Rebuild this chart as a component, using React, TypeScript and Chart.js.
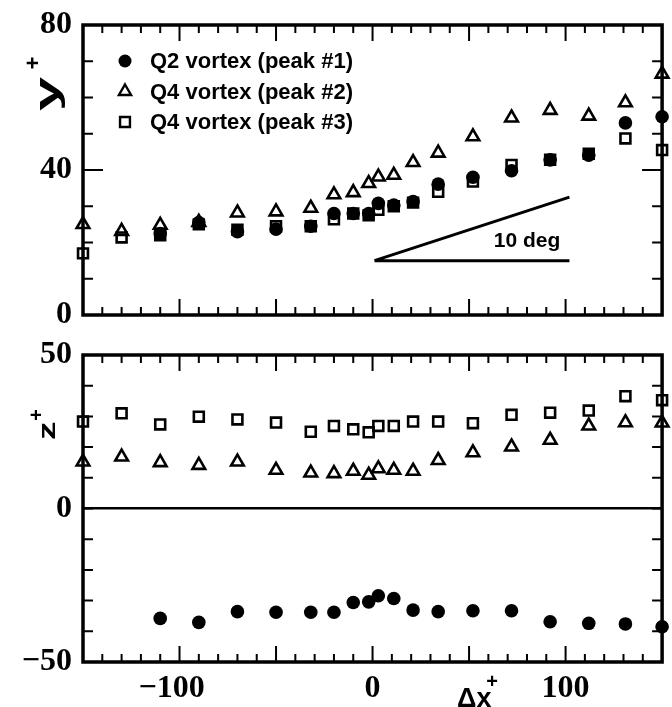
import React, { useEffect, useRef } from 'react';
import { Chart, registerables } from 'chart.js';

Chart.register(...registerables);

// ---------------- data ----------------
const xValues = [-150, -130, -110, -90, -70, -50, -32, -20, -10, -2, 3, 11, 21, 34, 52, 72, 92, 112, 131, 150];

// top panel: y+
const yPeak1 = [null, null, 22.5, 25.5, 23, 23.7, 24.5, 28, 28, 28, 30.8, 30.3, 31.3, 36.1, 38, 39.8, 42.8, 44.1, 53, 54.7];
const yPeak2 = [25, 23.1, 24.8, 25.6, 28.2, 28.5, 29.5, 33.2, 33.8, 36.3, 38.1, 38.6, 42.1, 44.7, 49.2, 54.4, 56.5, 54.9, 58.6, 66.5];
const yPeak3 = [17, 21.4, 22, 25, 23.5, 24.5, 24.5, 26.4, 28, 27.5, 29, 30, 31, 34, 36.8, 41.4, 42.8, 44.5, 48.7, 45.5];

// bottom panel: z+
const zPeak1 = [null, null, -35.8, -37.1, -33.6, -33.8, -33.8, -33.8, -30.6, -30.4, -28.4, -29.3, -33.1, -33.6, -33.3, -33.3, -36.9, -37.4, -37.6, -38.5];
const zPeak2 = [15.2, 16.8, 15, 14.1, 15.2, 12.5, 11.6, 11.4, 12.2, 10.9, 13, 12.5, 12.2, 15.7, 18.2, 20.1, 22.3, 26.9, 28, 27.9];
const zPeak3 = [28.3, 31, 27.4, 29.9, 29, 28, 25, 26.9, 25.8, 24.8, 26.9, 26.9, 28.3, 28.3, 27.8, 30.5, 31.2, 31.9, 36.6, 35.3];

const seriesNames = ['Q2 vortex (peak #1)', 'Q4 vortex (peak #2)', 'Q4 vortex (peak #3)'];

const xRange = [-150, 150];
const yRange = [0, 80];
const zRange = [-50, 50];
const xLabelValues = [-100, 0, 100];
const yLabelValues = [0, 40, 80];
const zLabelValues = [-50, 0, 50];

// "10 deg" annotation (data coords of the top panel)
const angleBase = [1, 15, 102, 15];
const angleSlope = [1, 15, 102, 32.5];
const angleLabel = { text: '10 deg', x: 80, y: 20.3 };

// ---------------- styles ----------------
const SERIF = "'Liberation Serif', 'DejaVu Serif', serif";
const SANS = "'Liberation Sans', Arial, sans-serif";

const seriesStyle: any[] = [
  { pointStyle: 'circle', pointRadius: 6.8, pointBackgroundColor: '#000', pointBorderColor: '#000', pointBorderWidth: 0 },
  { pointStyle: 'triangle', pointRadius: 7.3, pointBackgroundColor: 'rgba(0,0,0,0)', pointBorderColor: '#000', pointBorderWidth: 2.6 },
  { pointStyle: 'rect', pointRadius: 7, pointBackgroundColor: 'rgba(0,0,0,0)', pointBorderColor: '#000', pointBorderWidth: 2.6 },
];

const fmt = (v: number) => (v < 0 ? '\u2212' + Math.abs(v) : String(v));

function points(vals: (number | null)[]) {
  return xValues
    .map((x, i) => ({ x, y: vals[i] }))
    .filter((p) => p.y !== null) as { x: number; y: number }[];
}

function datasets(series: (number | null)[][]) {
  return series.map((s, i) => ({
    label: seriesNames[i],
    data: points(s),
    showLine: false,
    clip: false as any,
    ...seriesStyle[i],
  }));
}

function drawMarker(ctx: CanvasRenderingContext2D, style: string, x: number, y: number) {
  ctx.save();
  ctx.strokeStyle = '#000';
  ctx.fillStyle = '#000';
  ctx.lineWidth = 2.4;
  ctx.beginPath();
  if (style === 'circle') {
    ctx.arc(x, y, 6.5, 0, Math.PI * 2);
    ctx.fill();
  } else if (style === 'triangle') {
    const r = 7;
    let a = 0;
    ctx.moveTo(x + Math.sin(a) * r, y - Math.cos(a) * r);
    a += (2 * Math.PI) / 3;
    ctx.lineTo(x + Math.sin(a) * r, y - Math.cos(a) * r);
    a += (2 * Math.PI) / 3;
    ctx.lineTo(x + Math.sin(a) * r, y - Math.cos(a) * r);
    ctx.closePath();
    ctx.stroke();
  } else {
    const s = 7 * Math.SQRT1_2;
    ctx.rect(x - s, y - s, 2 * s, 2 * s);
    ctx.stroke();
  }
  ctx.restore();
}

function frameTicks(yMajor: (v: number) => boolean) {
  return {
    id: 'frameTicks',
    beforeDatasetsDraw(chart: any) {
      const { ctx, chartArea: a, scales } = chart;
      const xs = scales.x;
      const ys = scales.y;
      ctx.save();
      ctx.strokeStyle = '#000';
      ctx.lineWidth = 2;
      ctx.beginPath();
      for (let v = xs.min + 10; v < xs.max; v += 10) {
        const px = xs.getPixelForValue(v);
        const len = v % 50 === 0 ? 16 : 8;
        ctx.moveTo(px, a.top);
        ctx.lineTo(px, a.top + len);
        ctx.moveTo(px, a.bottom);
        ctx.lineTo(px, a.bottom - len);
      }
      for (let v = ys.min + 10; v < ys.max; v += 10) {
        const py = ys.getPixelForValue(v);
        const len = yMajor(v) ? 20 : 10;
        ctx.moveTo(a.left, py);
        ctx.lineTo(a.left + len, py);
        ctx.moveTo(a.right, py);
        ctx.lineTo(a.right - len, py);
      }
      ctx.stroke();
      ctx.lineWidth = 3.5;
      ctx.strokeRect(a.left, a.top, a.right - a.left, a.bottom - a.top);
      ctx.restore();
    },
  };
}

function rotatedTitle(
  ctx: CanvasRenderingContext2D,
  main: string,
  baseX: number,
  baseY: number,
  size: number,
  stretch: number,
  supX: number,
  supY: number,
  supSize: number
) {
  ctx.save();
  ctx.fillStyle = '#000';
  ctx.translate(baseX, baseY);
  ctx.rotate(-Math.PI / 2);
  ctx.scale(stretch, 1);
  ctx.font = `bold ${size}px ${SANS}`;
  ctx.textBaseline = 'alphabetic';
  ctx.textAlign = 'left';
  ctx.fillText(main, 0, 0);
  ctx.restore();
  ctx.save();
  ctx.fillStyle = '#000';
  ctx.translate(supX, supY);
  ctx.rotate(-Math.PI / 2);
  ctx.font = `bold ${supSize}px ${SANS}`;
  ctx.textBaseline = 'middle';
  ctx.textAlign = 'center';
  ctx.fillText('+', 0, 0);
  ctx.restore();
}

const topDecor = {
  id: 'topDecor',
  afterDraw(chart: any) {
    const { ctx, chartArea: a, scales } = chart;
    const xs = scales.x;
    const ys = scales.y;
    // legend
    const styles = ['circle', 'triangle', 'rect'];
    seriesNames.forEach((name, i) => {
      const y = a.top + 36 + i * 30.5;
      drawMarker(ctx, styles[i], a.left + 42, y);
      ctx.save();
      ctx.fillStyle = '#000';
      ctx.font = `bold 22px ${SANS}`;
      ctx.textBaseline = 'middle';
      ctx.textAlign = 'left';
      ctx.fillText(name, a.left + 67, y + 1);
      ctx.restore();
    });
    // 10 deg annotation
    ctx.save();
    ctx.strokeStyle = '#000';
    ctx.lineWidth = 3;
    ctx.beginPath();
    ctx.moveTo(xs.getPixelForValue(angleBase[0]), ys.getPixelForValue(angleBase[1]));
    ctx.lineTo(xs.getPixelForValue(angleBase[2]), ys.getPixelForValue(angleBase[3]));
    ctx.moveTo(xs.getPixelForValue(angleSlope[0]), ys.getPixelForValue(angleSlope[1]));
    ctx.lineTo(xs.getPixelForValue(angleSlope[2]), ys.getPixelForValue(angleSlope[3]));
    ctx.stroke();
    ctx.fillStyle = '#000';
    ctx.font = `bold 21px ${SANS}`;
    ctx.textAlign = 'center';
    ctx.textBaseline = 'middle';
    ctx.fillText(angleLabel.text, xs.getPixelForValue(angleLabel.x), ys.getPixelForValue(angleLabel.y));
    ctx.restore();
    // y+ title
    rotatedTitle(ctx, 'y', 58, 111, 34, 1.8, 34, 63, 22);
  },
};

const bottomDecor = {
  id: 'bottomDecor',
  afterDraw(chart: any) {
    const { ctx } = chart;
    rotatedTitle(ctx, 'z', 55, 110, 24, 1.55, 37, 85, 20);
    ctx.save();
    ctx.fillStyle = '#000';
    ctx.font = `bold 27px ${SANS}`;
    ctx.textAlign = 'left';
    ctx.textBaseline = 'alphabetic';
    ctx.fillText('\u0394x', 457, 377);
    ctx.font = `bold 20px ${SANS}`;
    ctx.textAlign = 'center';
    ctx.textBaseline = 'middle';
    ctx.fillText('+', 492, 352);
    ctx.restore();
  },
};

const tickFont = { family: SERIF, size: 32, weight: 'bold' as const };

function makeConfig(kind: 'top' | 'bottom'): any {
  const isTop = kind === 'top';
  const xScale: any = {
    type: 'linear',
    min: xRange[0],
    max: xRange[1],
    display: !isTop,
    border: { display: false },
    grid: { display: false, drawTicks: false },
    afterFit: (s: any) => {
      s.height = isTop ? 0 : 45;
      s.paddingLeft = 0;
      s.paddingRight = 0;
    },
    ticks: {
      stepSize: 10,
      autoSkip: false,
      maxRotation: 0,
      padding: 8,
      color: '#000',
      font: tickFont,
      callback: (v: number) => (xLabelValues.includes(v) ? fmt(v) + (v < 0 ? '  ' : '') : ''),
    },
  };
  return {
    type: 'scatter',
    data: {
      datasets: isTop ? datasets([yPeak1, yPeak2, yPeak3]) : datasets([zPeak1, zPeak2, zPeak3]),
    },
    options: {
      responsive: false,
      animation: false,
      devicePixelRatio: 1,
      events: [],
      layout: { padding: isTop ? { top: 25, right: 4, bottom: 15, left: 0 } : { top: 25, right: 4, bottom: 0, left: 0 } },
      plugins: { legend: { display: false }, tooltip: { enabled: false }, title: { display: false } },
      scales: {
        x: xScale,
        y: {
          type: 'linear',
          min: isTop ? yRange[0] : zRange[0],
          max: isTop ? yRange[1] : zRange[1],
          afterFit: (s: any) => {
            s.width = 83;
            s.paddingTop = 0;
            s.paddingBottom = 0;
          },
          border: { display: false },
          grid: isTop
            ? { display: false, drawTicks: false }
            : {
                display: true,
                drawTicks: false,
                color: (c: any) => (c.tick && c.tick.value === 0 ? '#000' : 'rgba(0,0,0,0)'),
                lineWidth: (c: any) => (c.tick && c.tick.value === 0 ? 2.5 : 0),
              },
          ticks: {
            stepSize: 10,
            autoSkip: false,
            padding: 11,
            color: '#000',
            font: tickFont,
            callback: (v: number) => ((isTop ? yLabelValues : zLabelValues).includes(v) ? fmt(v) : ''),
          },
        },
      },
    },
    plugins: [frameTicks((v) => (isTop ? v % 40 === 0 : false)), isTop ? topDecor : bottomDecor],
  };
}

export default function App() {
  const topRef = useRef<HTMLCanvasElement>(null);
  const botRef = useRef<HTMLCanvasElement>(null);
  useEffect(() => {
    const top = new Chart(topRef.current as HTMLCanvasElement, makeConfig('top'));
    const bot = new Chart(botRef.current as HTMLCanvasElement, makeConfig('bottom'));
    return () => {
      top.destroy();
      bot.destroy();
    };
  }, []);
  return (
    <div style={{ position: 'relative', width: 672, height: 707, background: '#fff', overflow: 'hidden' }}>
      <style>{'body{margin:0}'}</style>
      <canvas
        ref={topRef}
        width={672}
        height={330}
        style={{ position: 'absolute', left: 0, top: 0, width: 672, height: 330 }}
      />
      <canvas
        ref={botRef}
        width={672}
        height={377}
        style={{ position: 'absolute', left: 0, top: 330, width: 672, height: 377 }}
      />
    </div>
  );
}
